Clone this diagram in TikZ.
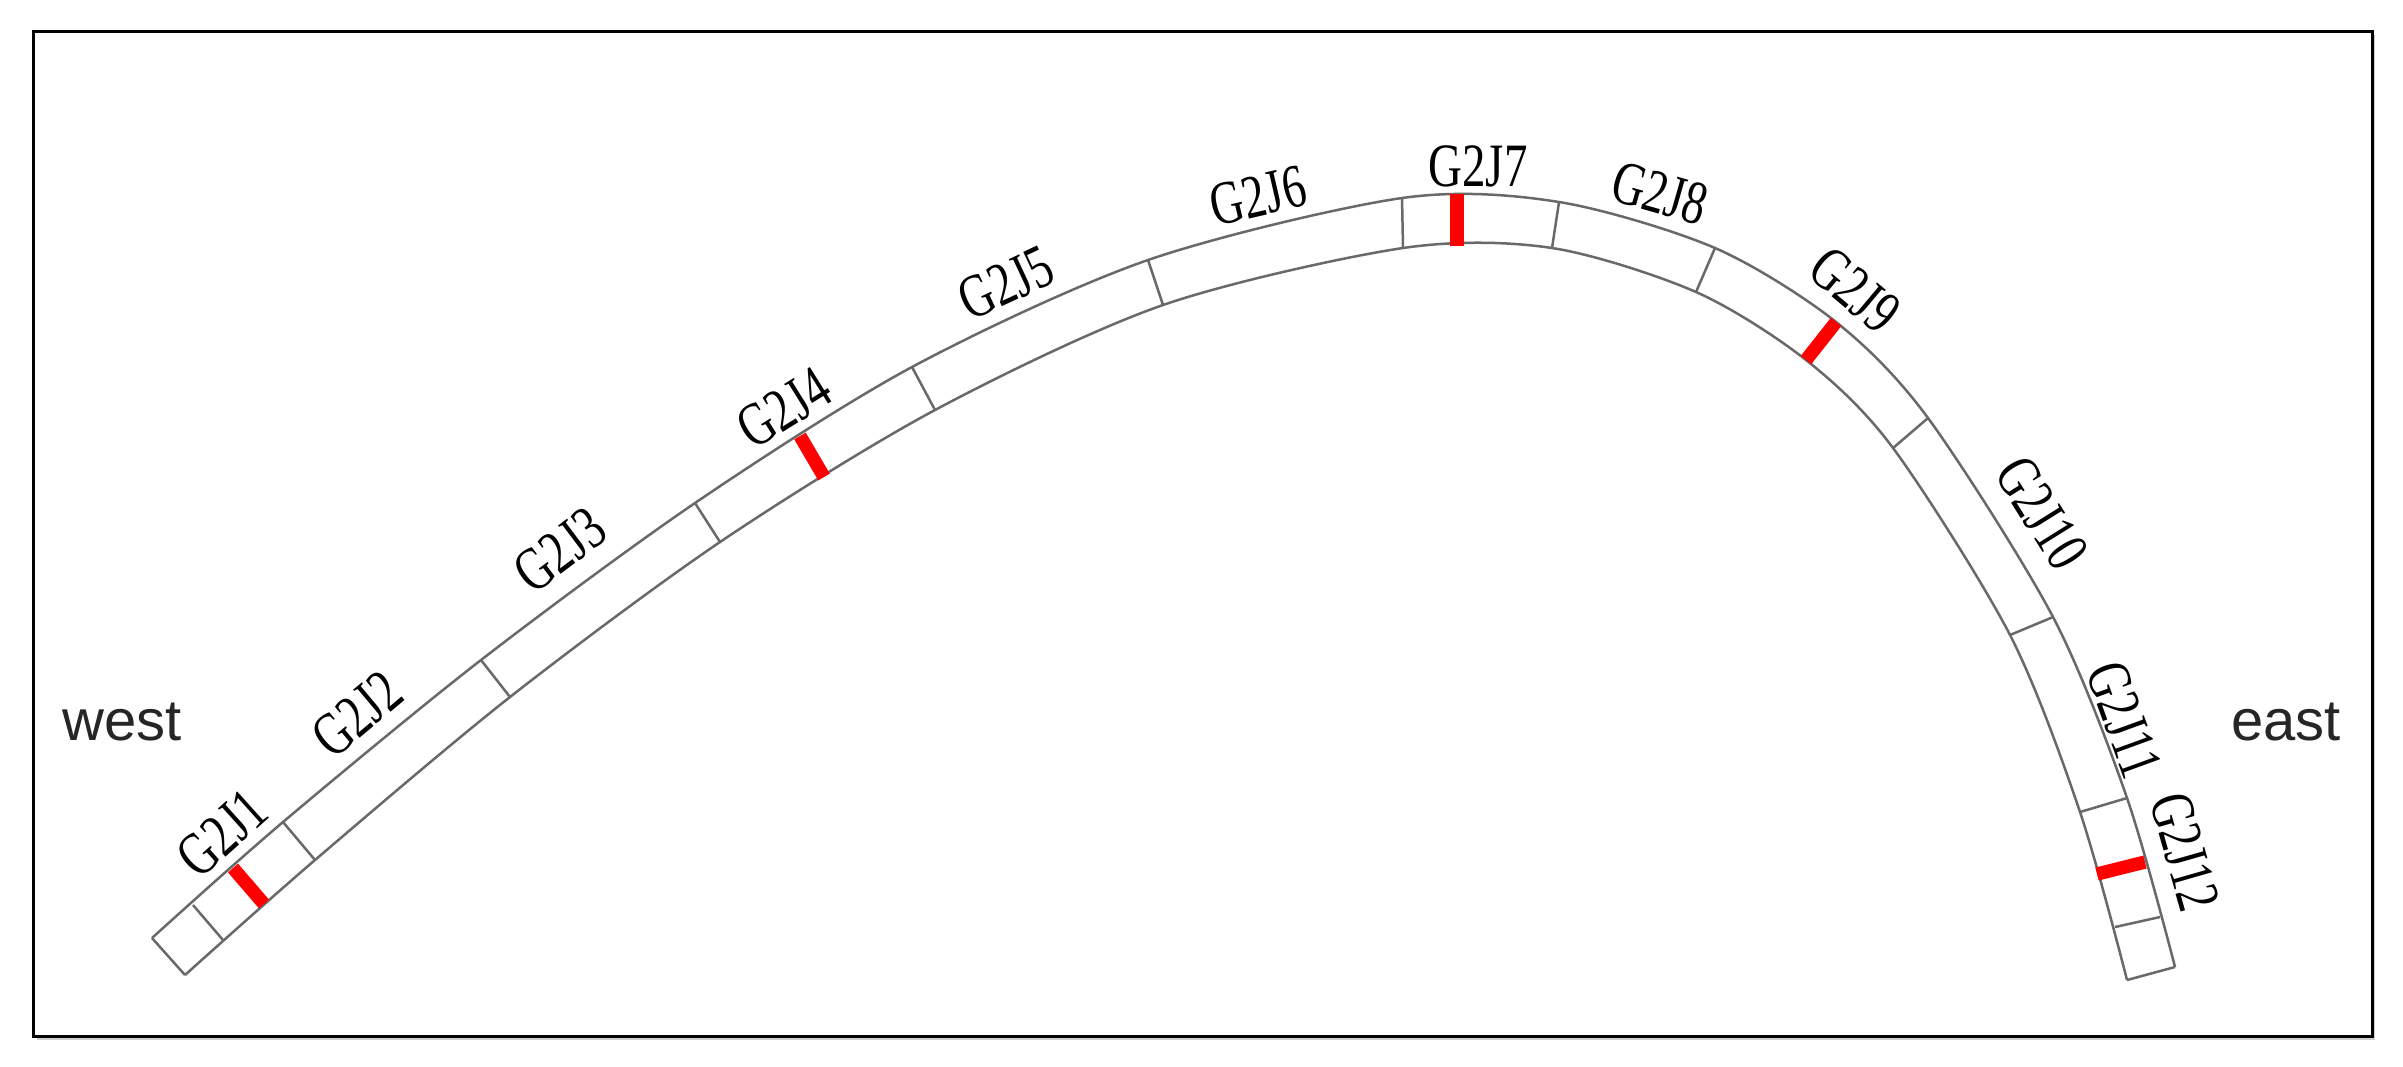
\documentclass[tikz,border=0pt]{standalone}
\usepackage{fontspec}
\usepackage{graphicx}
\setmainfont{Liberation Serif}
\newfontfamily\dirsans{Liberation Sans}
\definecolor{railgray}{RGB}{105,105,105}
\definecolor{shadowgray}{RGB}{205,205,205}
\begin{document}
\begin{tikzpicture}[x=0.3pt,y=-0.3pt,
  rail/.style={draw=railgray, line width=0.75pt},
  redbar/.style={draw=red, line width=4pt},
  lab/.style={font=\fontsize{18.5}{20}\selectfont, inner sep=0pt},
  dirlab/.style={font=\dirsans\fontsize{17.4}{20}\selectfont, text=black!85, inner sep=0pt}]
\useasboundingbox (0,0) rectangle (2403,1066);
% frame with shadow
\fill[shadowgray] (37,35) rectangle (2375,1040);
\draw[line width=0.9pt, fill=white] (33,31) rectangle (2372,1036);
% outer (label side) and inner end points of the cross lines
\coordinate (o0) at (152,938);  \coordinate (i0) at (185,975);
\coordinate (o1) at (193,905);  \coordinate (i1) at (223,940);
\coordinate (o2) at (233,868);  \coordinate (i2) at (264,904);
\coordinate (o3) at (283,822);  \coordinate (i3) at (315,860);
\coordinate (o4) at (481,660);  \coordinate (i4) at (510,697);
\coordinate (o5) at (695,503);  \coordinate (i5) at (720,542);
\coordinate (o6) at (800,436);  \coordinate (i6) at (824,477);
\coordinate (o7) at (912,367);  \coordinate (i7) at (935,410);
\coordinate (o8) at (1148,260); \coordinate (i8) at (1163,305);
\coordinate (o9) at (1402,198); \coordinate (i9) at (1403,248);
\coordinate (o10) at (1457,194); \coordinate (i10) at (1457,246);
\coordinate (o11) at (1559,202); \coordinate (i11) at (1552,248);
\coordinate (o12) at (1715,248); \coordinate (i12) at (1696,292);
\coordinate (o13) at (1836,322); \coordinate (i13) at (1806,360);
\coordinate (o14) at (1928,418); \coordinate (i14) at (1893,448);
\coordinate (o15) at (2053,617); \coordinate (i15) at (2010,635);
\coordinate (o16) at (2127,798); \coordinate (i16) at (2080,812);
\coordinate (o17) at (2145,862); \coordinate (i17) at (2097,874);
\coordinate (o18) at (2160,917); \coordinate (i18) at (2115,927);
\coordinate (o19) at (2175,967); \coordinate (i19) at (2127,980);
% rails (through the evenly spaced cross lines)
\draw[rail] plot[smooth, tension=0.5] coordinates {(o0) (o3) (o4) (o5) (o7) (o8) (o9) (o11) (o12) (o13) (o14) (o15) (o16) (o19)};
\draw[rail] plot[smooth, tension=0.5] coordinates {(i0) (i3) (i4) (i5) (i7) (i8) (i9) (i11) (i12) (i13) (i14) (i15) (i16) (i19)};
% cross lines
\foreach \k in {0,1,3,4,5,7,8,9,11,12,14,15,16,18,19}{
  \draw[rail] (o\k) -- (i\k);
}
% red joints
\foreach \k in {2,6,10,13,17}{
  \draw[redbar] (o\k) -- (i\k);
}
% labels
\node[lab, rotate=42]  (l1)  at (222,833)  {\scalebox{0.74}[1]{G2J1}};
\node[lab, rotate=40]  (l2)  at (357,714)  {\scalebox{0.74}[1]{G2J2}};
\node[lab, rotate=37]  (l3)  at (560,550)  {\scalebox{0.74}[1]{G2J3}};
\node[lab, rotate=32]  (l4)  at (784,408)  {\scalebox{0.74}[1]{G2J4}};
\node[lab, rotate=25]  (l5)  at (1006,283) {\scalebox{0.74}[1]{G2J5}};
\node[lab, rotate=13]  (l6)  at (1258,196) {\scalebox{0.74}[1]{G2J6}};
\node[lab, rotate=0]   (l7)  at (1478,166) {\scalebox{0.76}[1]{G2J7}};
\node[lab, rotate=-16] (l8)  at (1660,193) {\scalebox{0.74}[1]{G2J8}};
\node[lab, rotate=-40] (l9)  at (1855,290) {\scalebox{0.74}[1]{G2J9}};
\node[lab, rotate=-58] (l10) at (2042,513) {\scalebox{0.74}[1]{G2J10}};
\node[lab, rotate=-70] (l11) at (2124,720) {\scalebox{0.74}[1]{G2J11}};
\node[lab, rotate=-74] (l12) at (2185,852) {\scalebox{0.74}[1]{G2J12}};
\node[dirlab] (west) at (122,722) {west};
\node[dirlab] (east) at (2286,722) {east};
\end{tikzpicture}
\end{document}
